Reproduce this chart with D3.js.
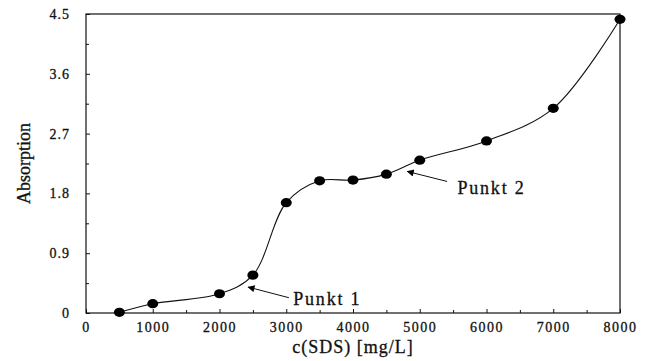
<!DOCTYPE html>
<html>
<head>
<meta charset="utf-8">
<script src="https://cdn.jsdelivr.net/npm/d3@7/dist/d3.min.js"></script>
<style>
  html, body { margin: 0; padding: 0; background: #fff; }
  svg { display: block; }
  text { font-family: "Liberation Serif", "Times New Roman", serif; fill: #111; stroke: #111; stroke-width: 0.3px; }
</style>
</head>
<body>
<svg id="chart" width="649" height="361"></svg>
<script>
// SDS concentration (mg/L) and measured absorption
const concentration = [500, 1000, 2000, 2500, 3000, 3500, 4000, 4500, 5000, 6000, 7000, 8000];
const absorption    = [0.01, 0.14, 0.29, 0.57, 1.66, 1.99, 2.00, 2.09, 2.30, 2.59, 3.08, 4.42];

// Axis ticks
const xTickLabels = [0, 1000, 2000, 3000, 4000, 5000, 6000, 7000, 8000];
const xMinorTicks = [500, 1500, 2500, 3500, 4500, 5500, 6500, 7500];
const yTickLabels = [0, 0.9, 1.8, 2.7, 3.6, 4.5];
const yMinorTicks = [0.45, 1.35, 2.25, 3.15, 4.05];

// Annotations: label, arrow tip, arrow tail, label anchor (data units)
const annotationLabels = ["Punkt 1", "Punkt 2"];
const arrowTips   = [[2430, 0.39], [4815, 2.13]];
const arrowTails  = [[3040, 0.23], [5410, 1.98]];
const labelAnchor = [[3105, 0.12], [5565, 1.79]];

const svg = d3.select("#chart");
const margin = { left: 86, right: 29, top: 14, bottom: 48 };
const W = 649, H = 361;

const x = d3.scaleLinear().domain([0, 8000]).range([margin.left, W - margin.right]);
const y = d3.scaleLinear().domain([0, 4.5]).range([H - margin.bottom, margin.top]);

// Frame
svg.append("rect")
  .attr("x", x(0)).attr("y", y(4.5))
  .attr("width", x(8000) - x(0)).attr("height", y(0) - y(4.5))
  .attr("fill", "none").attr("stroke", "#111").attr("stroke-width", 1.2);

// Bottom axis with inward ticks
const xAxis = d3.axisBottom(x).tickValues(xTickLabels).tickSize(-4).tickPadding(9)
  .tickFormat(d3.format("d"));
const gx = svg.append("g").attr("transform", `translate(0,${y(0)})`).call(xAxis);
gx.select(".domain").remove();
gx.selectAll("line").attr("stroke", "#111");
gx.selectAll("text").attr("font-size", 14).attr("letter-spacing", "1.5px").attr("fill", "#111")
  .attr("font-family", "Liberation Serif, serif");
svg.append("g").attr("transform", `translate(0,${y(0)})`)
  .call(d3.axisBottom(x).tickValues(xMinorTicks).tickSize(-3).tickFormat(""))
  .call(g => g.select(".domain").remove())
  .selectAll("line").attr("stroke", "#111");

// Left axis with inward ticks
const yAxis = d3.axisLeft(y).tickValues(yTickLabels).tickSize(-4).tickPadding(16)
  .tickFormat(d => d === 0 ? "0" : d3.format(".1f")(d));
const gy = svg.append("g").attr("transform", `translate(${x(0)},0)`).call(yAxis);
gy.select(".domain").remove();
gy.selectAll("line").attr("stroke", "#111");
gy.selectAll("text").attr("font-size", 14).attr("letter-spacing", "1px").attr("fill", "#111")
  .attr("font-family", "Liberation Serif, serif");
svg.append("g").attr("transform", `translate(${x(0)},0)`)
  .call(d3.axisLeft(y).tickValues(yMinorTicks).tickSize(-3).tickFormat(""))
  .call(g => g.select(".domain").remove())
  .selectAll("line").attr("stroke", "#111");

// Axis titles
svg.append("text")
  .attr("x", (x(0) + x(8000)) / 2).attr("y", 353)
  .attr("text-anchor", "middle").attr("font-size", 18).attr("letter-spacing", "1px")
  .text("c(SDS) [mg/L]");
svg.append("text")
  .attr("transform", `translate(30,${(y(0) + y(4.5)) / 2}) rotate(-90)`)
  .attr("text-anchor", "middle").attr("font-size", 18)
  .text("Absorption");

// Smooth curve through the measurements
const pts = concentration.map((c, i) => [c, absorption[i]]);
const line = d3.line().x(d => x(d[0])).y(d => y(d[1])).curve(d3.curveCatmullRom.alpha(0.5));
svg.append("path").datum(pts)
  .attr("d", line).attr("fill", "none").attr("stroke", "#111").attr("stroke-width", 1.1);

// Markers
svg.append("g").selectAll("ellipse").data(pts).join("ellipse")
  .attr("cx", d => x(d[0])).attr("cy", d => y(d[1]))
  .attr("rx", 5.5).attr("ry", 4.6).attr("fill", "#000");

// Arrowhead marker
svg.append("defs").append("marker")
  .attr("id", "head").attr("viewBox", "0 0 10 10")
  .attr("refX", 9).attr("refY", 5)
  .attr("markerWidth", 11).attr("markerHeight", 7)
  .attr("markerUnits", "userSpaceOnUse").attr("orient", "auto")
  .append("path").attr("d", "M0,0 L10,5 L0,10 Z").attr("fill", "#000");

annotationLabels.forEach((lab, i) => {
  svg.append("line")
    .attr("x1", x(arrowTails[i][0])).attr("y1", y(arrowTails[i][1]))
    .attr("x2", x(arrowTips[i][0])).attr("y2", y(arrowTips[i][1]))
    .attr("stroke", "#111").attr("stroke-width", 1)
    .attr("marker-end", "url(#head)");
  svg.append("text")
    .attr("x", x(labelAnchor[i][0])).attr("y", y(labelAnchor[i][1]))
    .attr("font-size", 18).attr("letter-spacing", "1.8px")
    .text(lab);
});
</script>
</body>
</html>
